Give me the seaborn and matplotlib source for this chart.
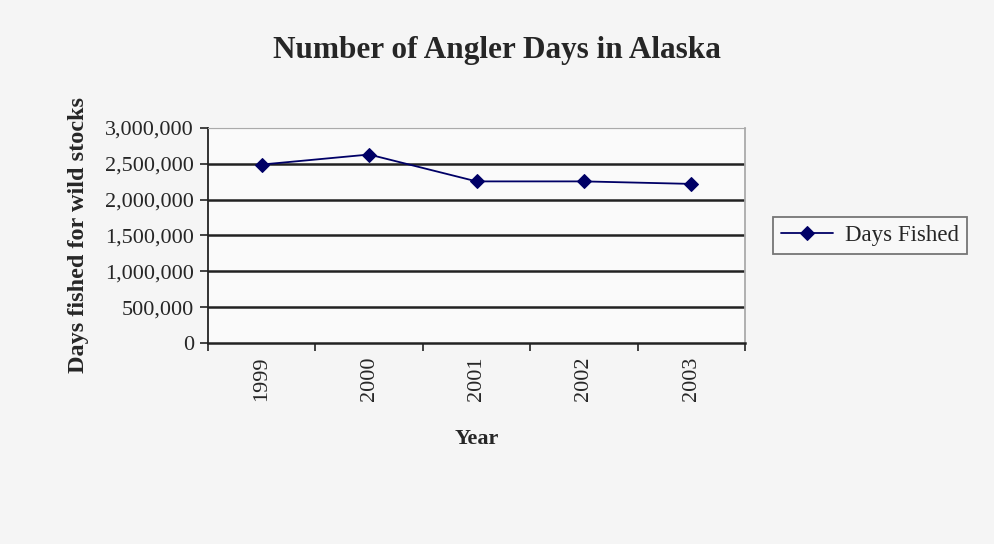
import matplotlib
matplotlib.use("Agg")
import matplotlib.pyplot as plt
import seaborn as sns
import numpy as np
import pandas as pd
from matplotlib.ticker import FuncFormatter, FixedLocator

years = ["1999", "2000", "2001", "2002", "2003"]
days_fished = [2490000, 2630000, 2255000, 2255000, 2220000]
y_ticks = [0, 500000, 1000000, 1500000, 2000000, 2500000, 3000000]

sns.set_style("white")
plt.rcParams["font.family"] = ["Liberation Serif", "DejaVu Serif"]

df = pd.DataFrame({"pos": np.arange(len(years)), "Days Fished": days_fished})

fig = plt.figure(figsize=(9.94, 5.44), dpi=100)
fig.patch.set_facecolor("#f5f5f5")
ax = fig.add_axes([0.2093, 0.3695, 0.5402, 0.3952])
ax.set_facecolor("#fafafa")

sns.lineplot(data=df, x="pos", y="Days Fished", ax=ax, color="#000066",
             marker="D", markersize=7, linewidth=1.3, label="Days Fished",
             markeredgecolor="#000066")

ax.set_xlim(-0.5, len(years) - 0.5)
ax.set_ylim(0, 3000000)
ax.set_yticks(y_ticks)
ax.yaxis.set_major_formatter(FuncFormatter(lambda v, p: f"{int(v):,}"))
ax.set_xticks(np.arange(len(years)))
ax.set_xticklabels(years, rotation=90)
ax.xaxis.set_minor_locator(FixedLocator(np.arange(-0.5, len(years), 1.0)))
ax.tick_params(axis="x", which="major", length=0, labelsize=16, pad=10)
ax.tick_params(axis="x", which="minor", length=6, width=1.2, color="#222222",
               direction="out", bottom=True)
ax.tick_params(axis="y", length=6, width=1.2, color="#222222", direction="out",
               left=True, labelsize=16, pad=4)

for v in y_ticks[1:-1]:
    ax.axhline(v, color="#222222", linewidth=1.8, zorder=0)
ax.axhline(3000000, color="#aaaaaa", linewidth=1.5, zorder=0)

ax.spines["left"].set_color("#222222")
ax.spines["left"].set_linewidth(1.3)
ax.spines["bottom"].set_color("#222222")
ax.spines["bottom"].set_linewidth(1.8)
ax.spines["top"].set_color("#aaaaaa")
ax.spines["right"].set_color("#aaaaaa")
ax.spines["right"].set_linewidth(1.3)

ax.set_xlabel("Year", fontsize=16, fontweight="bold", labelpad=20)
ax.set_ylabel("Days fished for wild stocks", fontsize=17.5, fontweight="bold",
              labelpad=12)
fig.text(0.5, 0.908, "Number of Angler Days in Alaska", ha="center",
         va="center", fontsize=22.5, fontweight="bold")

leg = ax.legend(loc="center left", bbox_to_anchor=(1.03, 0.5), fontsize=16.5,
                frameon=True, fancybox=False, edgecolor="#555555",
                handlelength=2.3, handletextpad=0.5, borderpad=0.35)
leg.get_frame().set_linewidth(1.3)
leg.get_frame().set_facecolor("#fafafa")

fig.savefig("out.png", dpi=100, facecolor=fig.get_facecolor())
